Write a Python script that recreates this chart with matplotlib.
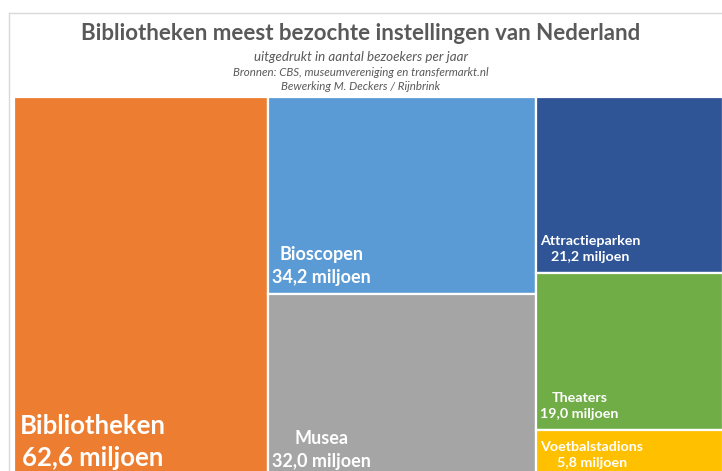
import matplotlib.pyplot as plt
from matplotlib.patches import Rectangle
from matplotlib.lines import Line2D

# data
categories = ['Bibliotheken', 'Bioscopen', 'Musea', 'Attractieparken', 'Theaters', 'Voetbalstadions']
bezoekers = [62.6, 34.2, 32.0, 21.2, 19.0, 5.8]   # miljoen per jaar
kolommen = [0, 1, 1, 2, 2, 2]                       # welke kolom in de treemap
kleuren = ['#ED7D31', '#5B9BD5', '#A5A5A5', '#2F5597', '#70AD47', '#FFC000']

titel = 'Bibliotheken meest bezochte instellingen van Nederland'
ondertitels = ['uitgedrukt in aantal bezoekers per jaar',
               'Bronnen: CBS, museumvereniging en transfermarkt.nl',
               'Bewerking M. Deckers / Rijnbrink']

# label-opmaak (hoogte van het labelmidden in assen-coordinaten, inspringing, fontgrootte)
label_y = [0.094, 0.556, 0.073, 0.600, 0.189, 0.060]
label_dx = [6, 4, 4, 4, 4, 4]
label_size = [18.5, 13, 13, 10.3, 10.3, 10.3]

plt.rcParams['font.family'] = ['Lato', 'DejaVu Sans']

fig = plt.figure(figsize=(7.22, 4.71), dpi=100)
W, H = 722, 471

# rand van de grafiek
fig.add_artist(Line2D([9 / W, 1], [1 - 13 / H, 1 - 13 / H], color='#D9D9D9', lw=1))
fig.add_artist(Line2D([9 / W, 9 / W], [0, 1 - 13 / H], color='#D9D9D9', lw=1))

fig.text(0.5, 1 - 34 / H, titel, ha='center', va='center', fontsize=16,
         fontweight='bold', color='#595959')
sub_size = [9.6, 8.3, 8.3]
sub_y = [57, 72, 87]
for i, t in enumerate(ondertitels):
    fig.text(0.5, 1 - sub_y[i] / H, t, ha='center', va='center', fontsize=sub_size[i],
             style='italic', color='#595959')

# treemap-gebied (loopt onder de rand van het plaatje door)
left, top, right, bottom = 14, 97, 723, 478
ax = fig.add_axes([left / W, (H - bottom) / H, (right - left) / W, (bottom - top) / H])
ax.set_xlim(0, 1)
ax.set_ylim(0, 1)
ax.axis('off')

totaal = sum(bezoekers)
x0 = 0
for k in sorted(set(kolommen)):
    idx = [i for i, c in enumerate(kolommen) if c == k]
    kol_tot = sum(bezoekers[i] for i in idx)
    breedte = kol_tot / totaal
    y1 = 1
    for i in idx:
        hoogte = bezoekers[i] / kol_tot
        ax.add_patch(Rectangle((x0, y1 - hoogte), breedte, hoogte, facecolor=kleuren[i],
                               edgecolor='white', lw=1.6))
        tekst = f'{categories[i]}\n{bezoekers[i]:.1f}'.replace('.', ',') + ' miljoen'
        ax.annotate(tekst, xy=(x0, label_y[i]),
                    xytext=(label_dx[i], 0), textcoords='offset pixels',
                    ha='left', va='center', multialignment='center', linespacing=1.4,
                    fontsize=label_size[i], fontweight='bold', color='white')
        y1 -= hoogte
    x0 += breedte

fig.savefig('out.png', dpi=100)
